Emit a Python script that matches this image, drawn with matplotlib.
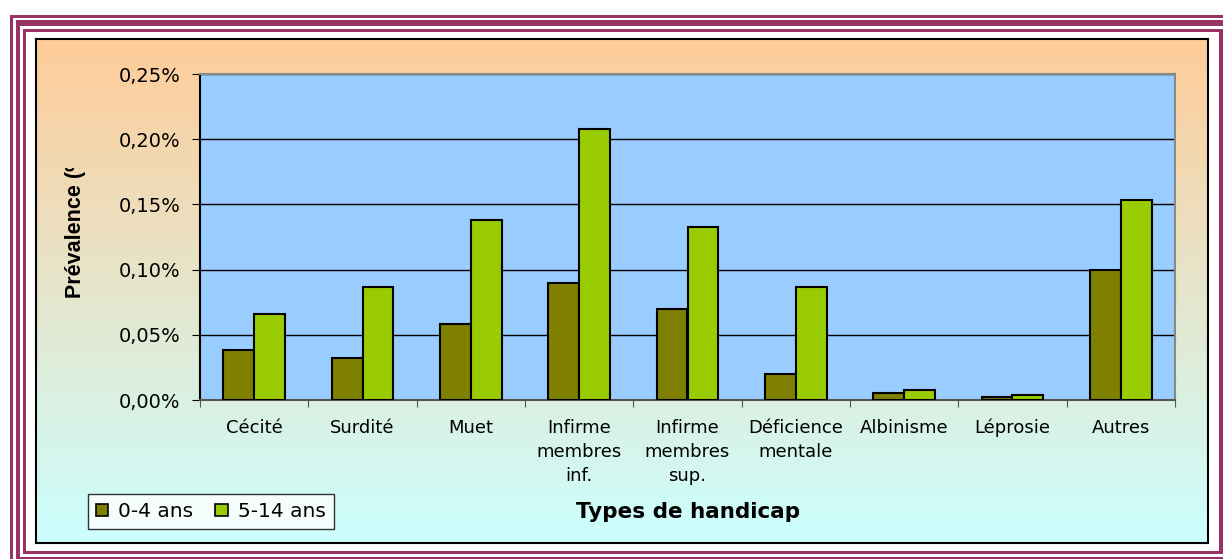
import numpy as np
import matplotlib
matplotlib.use("Agg")
import matplotlib.pyplot as plt
from matplotlib.patches import Rectangle, Patch
from matplotlib.transforms import Bbox, IdentityTransform, offset_copy
from matplotlib.ticker import FixedLocator, FuncFormatter, NullFormatter

categories = ["Cécité", "Surdité", "Muet", "Infirme\nmembres\ninf.", "Infirme\nmembres\nsup.",
              "Déficience\nmentale", "Albinisme", "Léprosie", "Autres"]
series_names = ["0-4 ans", "5-14 ans"]
vals_0_4 = [0.038, 0.032, 0.058, 0.090, 0.070, 0.020, 0.005, 0.0025, 0.100]
vals_5_14 = [0.066, 0.087, 0.138, 0.208, 0.133, 0.087, 0.0077, 0.004, 0.153]
y_ticks = [0.00, 0.05, 0.10, 0.15, 0.20, 0.25]

W, H = 1223, 559
fig = plt.figure(figsize=(W / 100, H / 100), dpi=100)
fig.patch.set_facecolor("white")

MAROON = "#993366"

def px_rect(x0, y0, x1, y1, **kw):
    # pixel coords with y measured from top
    r = Rectangle((x0, H - y1), x1 - x0, y1 - y0, transform=IdentityTransform(), **kw)
    fig.patches.append(r)
    return r

# Triple maroon frame
px_rect(10, 15, 1300, 17.5, facecolor=MAROON, edgecolor="none")
px_rect(10, 15, 13, 600, facecolor=MAROON, edgecolor="none")
px_rect(16, 20, 1300, 26, facecolor=MAROON, edgecolor="none")
px_rect(16, 20, 20, 600, facecolor=MAROON, edgecolor="none")
px_rect(16, 557, 1300, 600, facecolor=MAROON, edgecolor="none")
px_rect(23, 29, 1223, 32, facecolor=MAROON, edgecolor="none")
px_rect(23, 29, 26, 554, facecolor=MAROON, edgecolor="none")
px_rect(1219, 29, 1223, 554, facecolor=MAROON, edgecolor="none")
px_rect(23, 551, 1223, 554, facecolor=MAROON, edgecolor="none")

# Chart area with gradient
cx0, cy0, cx1, cy1 = 36, 39, 1208, 543
bg = fig.add_axes([cx0 / W, 1 - cy1 / H, (cx1 - cx0) / W, (cy1 - cy0) / H], zorder=0)
top = np.array([0xFF, 0xCC, 0x99]) / 255
bot = np.array([0xCC, 0xFF, 0xFF]) / 255
t = np.linspace(0, 1, 256)[:, None]
grad = top[None, :] * (1 - t) + bot[None, :] * t
bg.imshow(grad[:, None, :].repeat(2, axis=1), aspect="auto", extent=[0, 1, 0, 1], interpolation="bilinear")
bg.set_xticks([]); bg.set_yticks([])
for s in bg.spines.values():
    s.set_color("black"); s.set_linewidth(1.5)

# Plot area
px0, py0, px1, py1 = 200, 74, 1175, 400
ax = fig.add_axes([px0 / W, 1 - py1 / H, (px1 - px0) / W, (py1 - py0) / H], zorder=2)
ax.set_facecolor("#99CCFF")
n = len(categories)
x = np.arange(n)
bw = 0.286
ax.bar(x - bw / 2, vals_0_4, bw, color="#808000", edgecolor="black", linewidth=1.5, zorder=3, label=series_names[0])
ax.bar(x + bw / 2, vals_5_14, bw, color="#99CC00", edgecolor="black", linewidth=1.5, zorder=3, label=series_names[1])
ax.set_xlim(-0.5, n - 0.5)
ax.set_ylim(0, 0.25)
ax.set_yticks(y_ticks)
ax.yaxis.set_major_formatter(FuncFormatter(lambda v, p: f"{v:.2f}%".replace(".", ",")))
ax.yaxis.grid(True, color="black", linewidth=1.0, zorder=1)
ax.set_axisbelow(True)
ax.xaxis.set_major_locator(FixedLocator(np.arange(n + 1) - 0.5))
ax.xaxis.set_major_formatter(NullFormatter())
ax.tick_params(axis="x", which="major", length=5, color="#555555", direction="out")
ax.tick_params(axis="y", length=6, color="black", pad=8, labelsize=14)
for lbl in ax.get_yticklabels():
    lbl.set_fontfamily("DejaVu Sans")
ax.spines["left"].set_color("black")
ax.spines["bottom"].set_color("#555555")
ax.spines["top"].set_color("#888888")
ax.spines["right"].set_color("#888888")
for s in ax.spines.values():
    s.set_linewidth(1.5)

# Category labels, one text per line, baselines 24 px apart
for i, cat in enumerate(categories):
    for k, line in enumerate(cat.split("\n")):
        tr = offset_copy(ax.get_xaxis_transform(), fig=fig, x=0, y=-(33 + 24 * k), units="dots")
        ax.text(x[i], 0, line, transform=tr, ha="center", va="baseline",
                fontsize=13, fontfamily="DejaVu Sans", clip_on=False)

# Y label (clipped like the original)
yl = fig.text(75 / W, 1 - 298 / H, "Prévalence (%)", rotation=90, ha="center", va="bottom",
              fontsize=15.5, fontweight="bold", fontfamily="Liberation Sans", zorder=5)
yl.set_clip_on(True)
yl.set_clip_box(Bbox([[0, 0], [W, H - 168]]))

# X label
fig.text(688 / W, 1 - 512 / H, "Types de handicap", ha="center", va="center",
         fontsize=15.5, fontweight="bold", fontfamily="DejaVu Sans", zorder=5)

# Legend
handles = [Patch(facecolor="#808000", edgecolor="black", linewidth=1.2),
           Patch(facecolor="#99CC00", edgecolor="black", linewidth=1.2)]
leg = fig.legend(handles, series_names, loc="upper left", bbox_to_anchor=(88 / W, 1 - 494 / H),
                 bbox_transform=fig.transFigure, ncol=2, frameon=True, fancybox=False,
                 borderaxespad=0, handlelength=0.6, handleheight=0.6, handletextpad=0.5,
                 columnspacing=1.1, borderpad=0.4, prop={"family": "DejaVu Sans", "size": 14.5})
leg.get_frame().set_edgecolor("black")
leg.get_frame().set_linewidth(1.0)
leg.get_frame().set_facecolor("white")
leg.set_zorder(6)

fig.savefig("out.png", dpi=100)
